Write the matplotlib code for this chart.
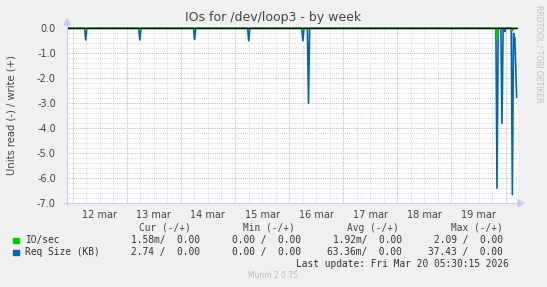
import matplotlib
matplotlib.use("Agg")
import matplotlib.pyplot as plt
import numpy as np

# ---- data (hours since Mar 11 21:30) ----
day_labels = ["12 mar", "13 mar", "14 mar", "15 mar", "16 mar", "17 mar", "18 mar", "19 mar"]
y_ticks = [0.0, -1.0, -2.0, -3.0, -4.0, -5.0, -6.0, -7.0]

req_t = [0, 7.8, 8.3, 8.8, 31.8, 32.3, 32.8, 56.1, 56.6, 57.1, 80.1, 80.6, 81.1,
         104.1, 104.6, 105.1, 106.6, 107.1, 107.6, 190.2, 190.7, 191.2, 192.4, 192.9,
         193.4, 193.9, 194.2, 194.6, 197.0, 197.5, 198.0, 198.6, 199.4]
req_v = [0, 0, -0.47, 0, 0, -0.47, 0, 0, -0.45, 0, 0, -0.5, 0,
         0, -0.5, 0, 0, -3.0, 0, 0, -6.4, 0, 0, -3.8,
         0, 0, -0.13, 0, 0, -6.65, -0.2, -0.4, -2.76]

io_t = [0, 7.9, 8.3, 8.7, 31.9, 32.3, 32.7, 56.2, 56.6, 57.0, 80.2, 80.6, 81.0,
        104.2, 104.6, 105.0, 190.3, 190.7, 191.1, 197.1, 197.5, 197.9, 199.4]
io_v = [0, 0, -0.08, 0, 0, -0.08, 0, 0, -0.05, 0, 0, -0.05, 0,
        0, -0.07, 0, 0, -0.4, 0, 0, -0.1, 0, 0]

legend_names = ["IO/sec", "Req Size (KB)"]
legend_colors = ["#00CC00", "#0066B3"]
legend_headers = ["Cur (-/+)", "Min (-/+)", "Avg (-/+)", "Max (-/+)"]
legend_rows = [
    ["1.58m/  0.00", "0.00 /  0.00", "1.92m/  0.00", "2.09 /  0.00"],
    ["2.74 /  0.00", "0.00 /  0.00", "63.36m/  0.00", "37.43 /  0.00"],
]
last_update = "Last update: Fri Mar 20 05:30:15 2026"

# ---- figure ----
W, H = 547, 287
fig = plt.figure(figsize=(W / 100, H / 100), dpi=100)
fig.patch.set_facecolor("#F0F0F0")

def px(x, y):
    return x / W, 1 - y / H

L, R, T, B = 67, 518, 25, 203.3
ax = fig.add_axes([L / W, 1 - B / H, (R - L) / W, (B - T) / H])
ax.set_facecolor("white")

xmax = 200.0
ax.set_xlim(0, xmax)
ax.set_ylim(-7, 0.13)

# grid
dot = (0, (1, 1.6))
for h in np.arange(2.5, xmax, 6):
    ax.axvline(h, color="#CCCCCC", lw=0.6, ls=dot, zorder=0)
for h in np.arange(2.5, xmax, 24):
    ax.axvline(h, color="#E4A8A8", lw=0.6, ls=dot, zorder=0.5)
for v in np.arange(0, -7.01, -0.2):
    ax.axhline(v, color="#CCCCCC", lw=0.6, ls=dot, zorder=0)
for v in y_ticks:
    ax.axhline(v, color="#E4A8A8", lw=0.6, ls=dot, zorder=0.5)

ax.plot(req_t, req_v, color=legend_colors[1], lw=1.2, zorder=3)
ax.plot(io_t, io_v, color=legend_colors[0], lw=1.4, zorder=4)
ax.axhline(0, color="black", lw=0.9, zorder=5)

for s in ax.spines.values():
    s.set_visible(False)
ax.set_xticks([14.5 + 24 * i for i in range(len(day_labels))])
ax.set_xticklabels(day_labels)
ax.set_yticks(y_ticks)
ax.set_yticklabels([f"{v:.1f}" for v in y_ticks])
ax.tick_params(axis="both", length=0, labelsize=7, colors="#444444")
ax.tick_params(axis="y", pad=8)
ax.tick_params(axis="x", pad=5)

# axis lines with arrows
axc = "#C8CCEE"
fig.add_artist(plt.Line2D([L / W, L / W], [1 - 205 / H, 1 - 24 / H], color=axc, lw=0.8))
fig.add_artist(plt.Line2D([64 / W, 519 / W], [1 - B / H, 1 - B / H], color=axc, lw=0.8))
fig.add_artist(plt.Polygon([px(64, 25), px(70, 25), px(67, 19)], closed=True, color=axc))
fig.add_artist(plt.Polygon([px(518, 200), px(518, 206.5), px(524, B)], closed=True, color=axc))

# texts
fig.text(*px(273.5, 18), "IOs for /dev/loop3 - by week", ha="center", va="center",
         fontsize=9, color="#444444")
fig.text(*px(12, 115), "Units read (-) / write (+)", ha="center", va="center",
         rotation=90, fontsize=7.2, color="#444444")
fig.text(*px(539, 5), "RRDTOOL / TOBI OETIKER", ha="center", va="top",
         rotation=270, fontsize=5.5, color="#C0C0C0")

mono = "DejaVu Sans Mono"
fs = 6.85
col_right_head = [191, 295, 399, 503]
col_right_val = [200, 301, 402, 503]
for hdr, xr in zip(legend_headers, col_right_head):
    fig.text(*px(xr, 228), hdr, ha="right", va="center", family=mono, fontsize=fs, color="#444444")
for i, (name, col, vals) in enumerate(zip(legend_names, legend_colors, legend_rows)):
    y = 240 + 12 * i
    fig.add_artist(plt.Rectangle(px(13, y + 3), 5.5 / W, 5.5 / H, color=col))
    fig.text(*px(25, y), name, ha="left", va="center", family=mono, fontsize=fs, color="#333333")
    for v, xr in zip(vals, col_right_val):
        fig.text(*px(xr, y), v, ha="right", va="center", family=mono, fontsize=fs, color="#333333")
fig.text(*px(509, 264), last_update, ha="right", va="center", family=mono, fontsize=fs, color="#333333")
fig.text(*px(273, 276), "Munin 2.0.75", ha="center", va="center", fontsize=5.5, color="#BBBBBB")

fig.savefig("out.png", dpi=100, facecolor=fig.get_facecolor())
